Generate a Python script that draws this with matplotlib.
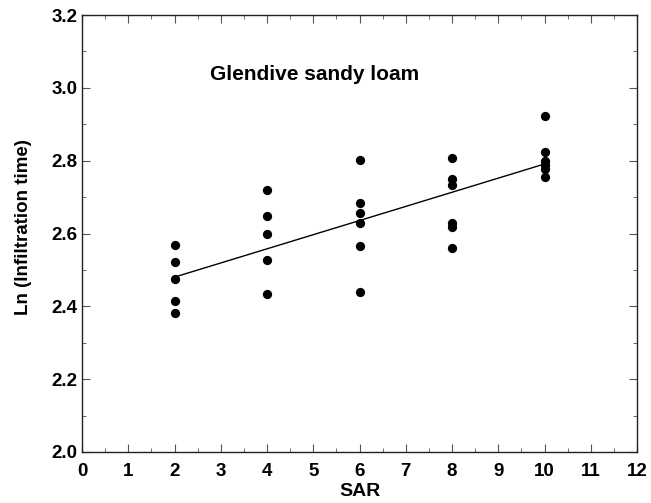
import matplotlib.pyplot as plt
import numpy as np
from matplotlib.ticker import MultipleLocator

plt.rcParams['font.family'] = ['Liberation Sans', 'DejaVu Sans']

# SAR levels and measured ln(infiltration time)
sar = [2, 2, 2, 2, 2,
       4, 4, 4, 4, 4,
       6, 6, 6, 6, 6, 6,
       8, 8, 8, 8, 8, 8,
       10, 10, 10, 10, 10, 10]
ln_time = [2.569, 2.522, 2.474, 2.415, 2.381,
           2.720, 2.648, 2.600, 2.527, 2.434,
           2.801, 2.684, 2.657, 2.630, 2.566, 2.440,
           2.807, 2.750, 2.734, 2.628, 2.619, 2.561,
           2.923, 2.825, 2.799, 2.787, 2.776, 2.755]

sar = np.array(sar, dtype=float)
ln_time = np.array(ln_time)

# linear fit
slope, icpt = np.polyfit(sar, ln_time, 1)
xfit = np.array([sar.min(), sar.max()])
yfit = icpt + slope * xfit

fig = plt.figure(figsize=(6.51, 5.03), dpi=100)
ax = fig.add_axes([0.126, 0.1014, 0.8525, 0.8686])

ax.scatter(sar, ln_time, s=32, color='black', zorder=3)
ax.plot(xfit, yfit, color='black', lw=1.0)

ax.set_xlim(0, 12)
ax.set_ylim(2.0, 3.2)
ax.xaxis.set_major_locator(MultipleLocator(1))
ax.xaxis.set_minor_locator(MultipleLocator(0.5))
ax.yaxis.set_major_locator(MultipleLocator(0.2))
ax.yaxis.set_minor_locator(MultipleLocator(0.1))
ax.yaxis.set_major_formatter(plt.FormatStrFormatter('%.1f'))

ax.tick_params(which='both', direction='in', top=True, right=True, color='#555555')
ax.tick_params(which='major', length=6, width=0.8, labelsize=13.5)
ax.tick_params(which='minor', length=3, width=0.6)
ax.tick_params(axis='x', which='major', pad=8)
ax.tick_params(axis='y', which='major', pad=3)
for lbl in ax.get_xticklabels() + ax.get_yticklabels():
    lbl.set_fontweight('bold')
for sp in ax.spines.values():
    sp.set_linewidth(1.0)
    sp.set_color('#222222')

ax.set_xlabel('SAR', fontsize=14, fontweight='bold', labelpad=2)
ax.set_ylabel('Ln (Infiltration time)', fontsize=13.5, fontweight='bold')
ax.yaxis.set_label_coords(-0.09, 0.515)

ax.text(2.77, 3.036, 'Glendive sandy loam', fontsize=15, fontweight='bold', va='center')

fig.savefig('out.png', dpi=100)
